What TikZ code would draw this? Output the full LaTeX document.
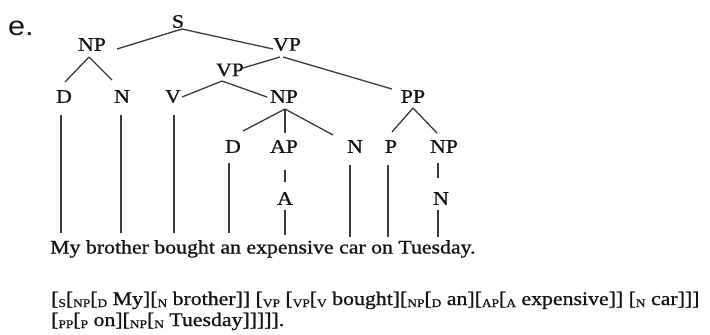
\documentclass[tikz,border=0pt]{standalone}
\usepackage{fontspec}
\setmainfont{Liberation Serif}[FakeBold=0.9]
\newfontfamily\lsans{Liberation Sans}
\usepackage{graphicx}
\newcommand\Sx[1]{\scalebox{1.14}[1]{#1}}
\newcommand\lsub[1]{\raisebox{-2bp}{\fontsize{11.8}{12}\selectfont #1}}
\definecolor{txt}{HTML}{141414}
\definecolor{ln}{HTML}{3A3A3A}
\tikzset{
  lab/.style={inner sep=0pt, text=txt, font=\fontsize{19.2}{22}\selectfont},
  edge/.style={draw=ln, line width=1.3bp},
  wline/.style={draw=ln, line width=1.6bp},
  para/.style={inner sep=0pt, text=txt, anchor=base west, font=\fontsize{19.2}{22}\selectfont}
}
\begin{document}
\begin{tikzpicture}[x=1bp, y=-1bp]
\useasboundingbox (0,0) rectangle (710,334);
\node[inner sep=0pt, anchor=base west, text=txt, font=\lsans\fontsize{27}{30}\selectfont] (lbl) at (8,35) {\Sx{e.}};
% tree labels
\node[lab] (S) at (178,21.5) {\Sx{S}};
\node[lab] (NPa) at (92,44.5) {\Sx{NP}};
\node[lab] (VPa) at (287,44.5) {\Sx{VP}};
\node[lab] (VPb) at (230,70) {\Sx{VP}};
\node[lab] (Da) at (64,96.5) {\Sx{D}};
\node[lab] (Na) at (122,96.5) {\Sx{N}};
\node[lab] (V) at (173,96.5) {\Sx{V}};
\node[lab] (NPb) at (284,96.5) {\Sx{NP}};
\node[lab] (PP) at (413,96.5) {\Sx{PP}};
\node[lab] (Db) at (233,146.5) {\Sx{D}};
\node[lab] (AP) at (284,146.5) {\Sx{AP}};
\node[lab] (Nb) at (355,146.5) {\Sx{N}};
\node[lab] (P) at (391,146.5) {\Sx{P}};
\node[lab] (NPc) at (444,146.5) {\Sx{NP}};
\node[lab] (A) at (285,198.5) {\Sx{A}};
\node[lab] (Nc) at (441,198.5) {\Sx{N}};
% sentence
\node[para] (sent) at (50,253.5) {\Sx{My brother bought an expensive car on Tuesday.}};
\coordinate (w1) at (61,233);
\coordinate (w2) at (121,233);
\coordinate (w3) at (174,233);
\coordinate (w4) at (229,233);
\coordinate (w5) at (285,235);
\coordinate (w6) at (350,237);
\coordinate (w7) at (388,237);
\coordinate (w8) at (438,237);
% edges
\draw[edge] ([shift={(4,7.5)}]S.center) -- ([shift={(25,4.5)}]NPa.center);
\draw[edge] ([shift={(4,7.5)}]S.center) -- ([shift={(-14,4.5)}]VPa.center);
\draw[edge] ([shift={(-3,12.5)}]NPa.center) -- ([shift={(1,-14.5)}]Da.center);
\draw[edge] ([shift={(-3,12.5)}]NPa.center) -- ([shift={(-10,-16.5)}]Na.center);
\draw[edge] ([shift={(-7,12.5)}]VPa.center) -- ([shift={(13,-2)}]VPb.center);
\draw[edge] ([shift={(-4,12.5)}]VPa.center) -- ([shift={(-21,-7.5)}]PP.center);
\draw[edge] ([shift={(-8,11)}]VPb.center) -- ([shift={(9,0.5)}]V.center);
\draw[edge] ([shift={(-8,11)}]VPb.center) -- ([shift={(-17,0.5)}]NPb.center);
\draw[edge] ([shift={(1,12.5)}]NPb.center) -- ([shift={(10,-15.5)}]Db.center);
\draw[edge] ([shift={(1,12.5)}]NPb.center) -- ([shift={(1,-13.5)}]AP.center);
\draw[edge] ([shift={(1,12.5)}]NPb.center) -- ([shift={(-22,-11.5)}]Nb.center);
\draw[edge] ([shift={(0,11.5)}]PP.center) -- ([shift={(1,-14.5)}]P.center);
\draw[edge] ([shift={(0,11.5)}]PP.center) -- ([shift={(-7,-13.5)}]NPc.center);
\draw[edge] ([shift={(1,23.5)}]AP.center) -- ([shift={(0,-16.5)}]A.center);
\draw[edge] ([shift={(-6,16.5)}]NPc.center) -- ([shift={(-3,-20.5)}]Nc.center);
% lines to words
\draw[wline] ([shift={(-3,18.5)}]Da.center) -- (w1);
\draw[wline] ([shift={(-1,18.5)}]Na.center) -- (w2);
\draw[wline] ([shift={(1,18.5)}]V.center) -- (w3);
\draw[wline] ([shift={(-4,16.5)}]Db.center) -- (w4);
\draw[wline] ([shift={(0,11.5)}]A.center) -- (w5);
\draw[wline] ([shift={(-5,18.5)}]Nb.center) -- (w6);
\draw[wline] ([shift={(-3,18.5)}]P.center) -- (w7);
\draw[wline] ([shift={(-3,11.5)}]Nc.center) -- (w8);
% bracketing
\node[para] (br1) at (51,305) {\Sx{[\lsub{S}[\lsub{NP}[\lsub{D} My][\lsub{N} brother]] [\lsub{VP} [\lsub{VP}[\lsub{V} bought][\lsub{NP}[\lsub{D} an][\lsub{AP}[\lsub{A} expensive]] [\lsub{N} car]]]}};
\node[para] (br2) at (51,326) {\Sx{[\lsub{PP}[\lsub{P} on][\lsub{NP}[\lsub{N} Tuesday]]]]].}};
\end{tikzpicture}
\end{document}
